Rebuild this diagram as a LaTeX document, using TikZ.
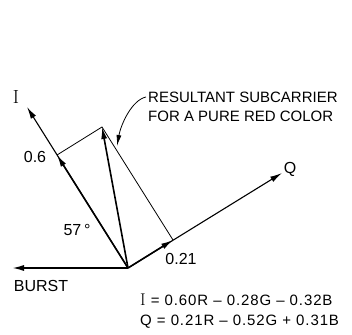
\documentclass[tikz,border=0pt]{standalone}
\usepackage{fontspec}
\setsansfont{Liberation Sans}
\usetikzlibrary{arrows.meta}

\begin{document}
\begin{tikzpicture}[
    x=1pt, y=-1pt,
    font=\sffamily,
    vec/.style={line width=1.6pt, -{Latex[length=12pt, width=6pt]}},
    axis/.style={line width=1.1pt, -{Latex[length=12pt, width=6pt]}},
    thin/.style={line width=0.8pt},
    lbl/.style={font=\sffamily\fontsize{16}{18}\selectfont, inner sep=0pt},
    eq/.style={font=\sffamily\fontsize{15}{18}\selectfont\addfontfeatures{LetterSpace=6}, inner sep=0pt, anchor=west}
]
\useasboundingbox (0,0) rectangle (352,334);

% -- points --
\coordinate (origin) at (128,268);
\coordinate (itip) at (27,107);
\coordinate (qtip) at (282,173);
\coordinate (burst) at (12,268);
\coordinate (ipart) at (57,155);
\coordinate (qpart) at (173,240);
\coordinate (result) at (102,127);
\coordinate (lead) at (146,97);
\coordinate (hit) at (117,146);

% -- axes --
\draw[axis] (origin) -- (itip);
\draw[axis] (origin) -- (qtip);
\draw[vec] (origin) -- (burst);

% -- components --
\draw[vec] (origin) -- (ipart);
\draw[vec] (origin) -- (qpart);
\draw[thin] (ipart) -- (result) -- (qpart);

% -- resultant --
\draw[vec] (origin) -- (result);
\draw[thin, -{Latex[length=11pt, width=5pt]}] (lead) .. controls (132,100) and (121,124) .. (hit);

% -- labels --
\node[lbl, font=\rmfamily\fontsize{19}{20}\selectfont] (ilbl) at (16,97) {I};
\node[lbl] (qlbl) at (290,169) {Q};
\node[lbl] (ival) at (35,157) {0.6};
\node[lbl] (qval) at (181,259) {0.21};
\node[lbl] (angle) at (77,230) {57\,°};
\node[lbl] (burstlbl) at (41,286) {BURST};
\node[lbl, font=\sffamily\fontsize{15}{19}\selectfont, anchor=north west, align=left]
    (note) at (148,92) {RESULTANT SUBCARRIER\\FOR A PURE RED COLOR};

% -- equations --
\node[eq] (ieq) at (140,300) {{\rmfamily\fontsize{17}{18}\selectfont I} = 0.60R -- 0.28G -- 0.32B};
\node[eq] (qeq) at (140,322) {Q = 0.21R -- 0.52G + 0.31B};

\end{tikzpicture}
\end{document}
